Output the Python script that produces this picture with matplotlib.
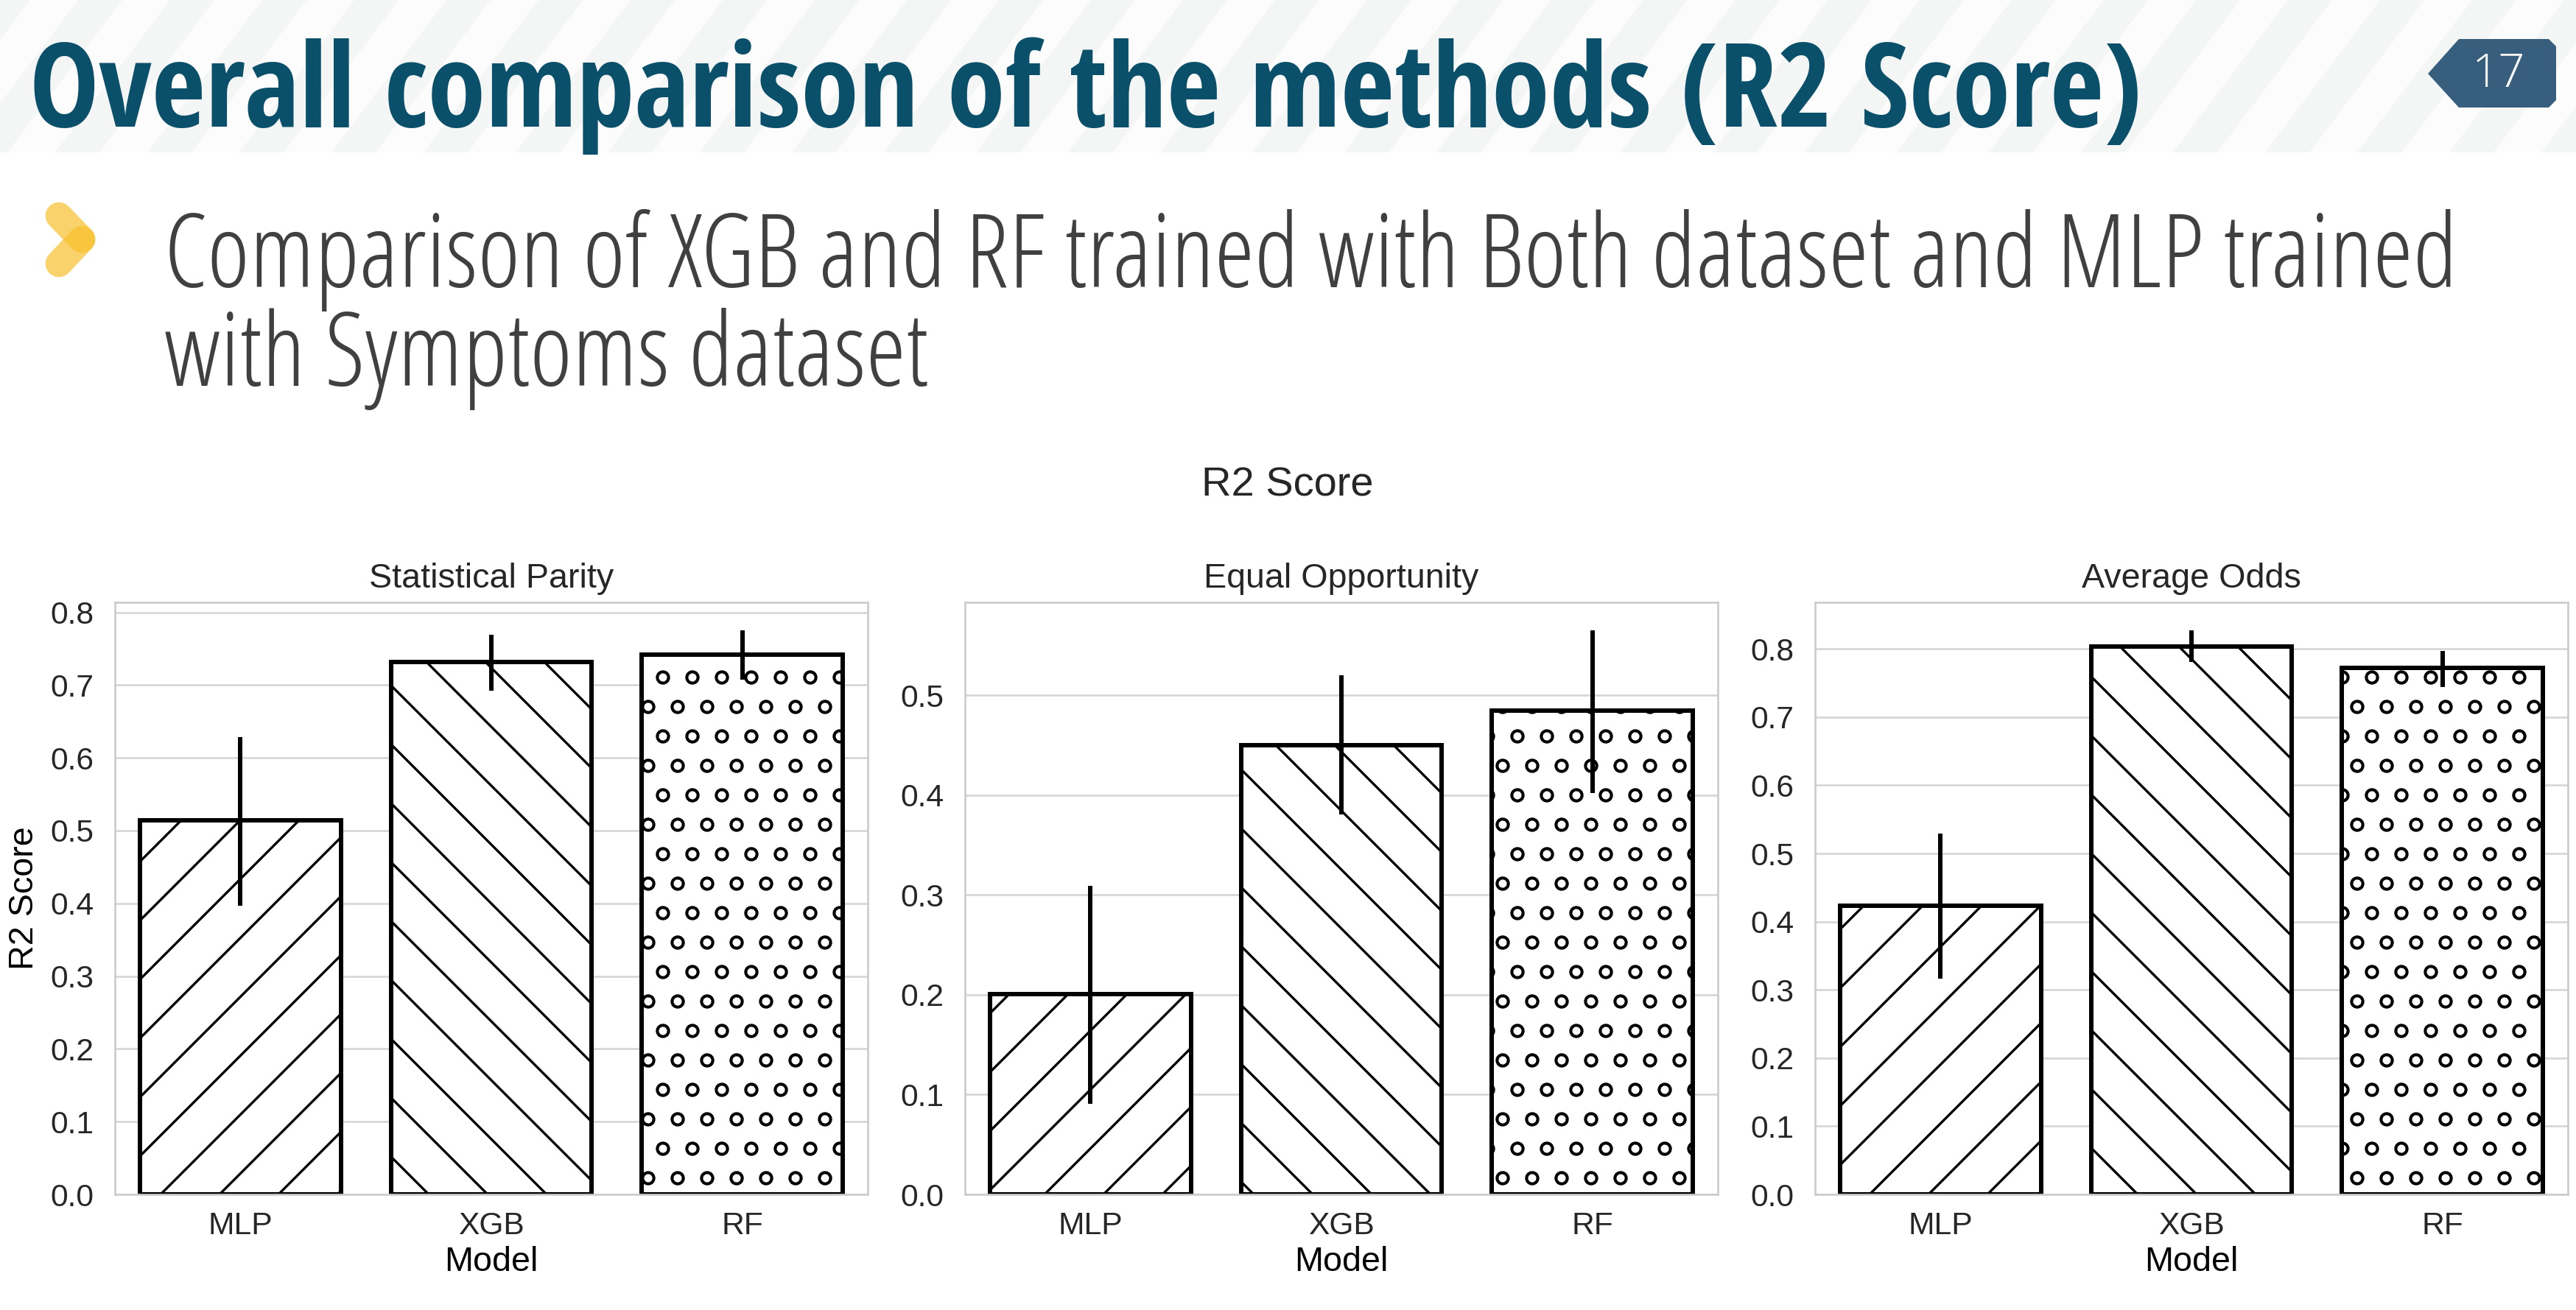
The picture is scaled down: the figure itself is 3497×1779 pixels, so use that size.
import matplotlib
matplotlib.use("Agg")
import matplotlib.pyplot as plt
from matplotlib import rcParams
from matplotlib.patches import Polygon, Rectangle
from matplotlib.ticker import MultipleLocator
import numpy as np

W, H = 3497, 1779
DPI = 240

models = ["MLP", "XGB", "RF"]
panel_titles = ["Statistical Parity", "Equal Opportunity", "Average Odds"]
sp_mean = [0.514, 0.732, 0.742]
sp_lo = [0.397, 0.692, 0.707]
sp_hi = [0.629, 0.769, 0.775]
eo_mean = [0.201, 0.450, 0.485]
eo_lo = [0.091, 0.381, 0.402]
eo_hi = [0.309, 0.520, 0.565]
ao_mean = [0.423, 0.804, 0.772]
ao_lo = [0.316, 0.781, 0.744]
ao_hi = [0.529, 0.827, 0.797]
hatches = ["/", "\\", "o"]

rcParams["font.family"] = ["Liberation Sans", "DejaVu Sans"]
rcParams["hatch.linewidth"] = 1.0
rcParams["text.color"] = "#262626"

fig = plt.figure(figsize=(W / DPI, H / DPI), dpi=DPI, facecolor="white")
bg = fig.add_axes([0, 0, 1, 1])
bg.set_xlim(0, W)
bg.set_ylim(H, 0)
bg.axis("off")

# faint striped header band
bg.add_patch(Rectangle((0, 0), W, 207, color="#fcfcfc", lw=0))
for x0 in range(-300, W + 300, 125):
    bg.add_patch(Polygon([(x0, 207), (x0 + 60, 207), (x0 + 216, 0), (x0 + 156, 0)],
                         closed=True, color="#f4f5f5", lw=0))

renderer = fig.canvas.get_renderer()


def fit_width(t, width):
    w = t.get_window_extent(renderer).width
    t.set_fontsize(t.get_fontsize() * width / w)


title = bg.text(40, 172, "Overall comparison of the methods (R2 Score)",
                family=["Open Sans Condensed", "DejaVu Sans"], weight="bold",
                color="#0b506b", fontsize=60, va="baseline", ha="left")
fit_width(title, 2870)

# slide number badge
bg.add_patch(Polygon([(3296, 100), (3338, 53), (3460, 53), (3470, 63), (3470, 136),
                      (3460, 146), (3338, 146)], closed=True, color="#375e7c", lw=0))
bg.text(3392, 101, "17", family=["Open Sans", "DejaVu Sans"], weight=300,
        color="white", fontsize=19, ha="center", va="center")

# bullet chevron
bg.plot([80, 111], [293, 325], color="#f9bf2c", lw=11, alpha=0.7, solid_capstyle="round")
bg.plot([111, 80], [325, 358], color="#f9bf2c", lw=11, alpha=0.7, solid_capstyle="round")

sub_font = dict(family=["Open Sans", "DejaVu Sans"], weight=300, stretch="condensed",
                color="#404040", va="baseline", ha="left")
sub1 = bg.text(223, 390, "Comparison of XGB and RF trained with Both dataset and MLP trained",
               fontsize=45, **sub_font)
fit_width(sub1, 3116)
bg.text(223, 524, "with Symptoms dataset", fontsize=sub1.get_fontsize(), **sub_font)

# chart
fig.text(1748 / W, 1 - 674 / H, "R2 Score", fontsize=16.8, ha="center", va="baseline")

means = [sp_mean, eo_mean, ao_mean]
los = [sp_lo, eo_lo, ao_lo]
his = [sp_hi, eo_hi, ao_hi]
lefts = [156, 1310, 2464]
for i in range(3):
    ax = fig.add_axes([lefts[i] / W, 1 - 1622 / H, 1022 / W, (1622 - 818) / H])
    ax.set_facecolor("white")
    x = np.arange(len(models))
    bars = ax.bar(x, means[i], width=0.8, color="white", edgecolor="black", linewidth=1.8)
    for b, h in zip(bars, hatches):
        b.set_hatch(h)
    ax.vlines(x, los[i], his[i], color="black", lw=1.8)
    ax.set_xlim(-0.5, 2.5)
    ax.set_ylim(0, None)
    ax.yaxis.set_major_locator(MultipleLocator(0.1))
    ax.set_xticks(x)
    ax.set_xticklabels(models)
    ax.grid(axis="y", color="#d6d6d6", lw=0.8)
    ax.set_axisbelow(True)
    for s in ax.spines.values():
        s.set_color("#cccccc")
        s.set_linewidth(0.8)
    ax.tick_params(length=0, labelsize=12.8, colors="#262626")
    ax.tick_params(axis="x", pad=7)
    ax.tick_params(axis="y", pad=8.5)
    ax.set_title(panel_titles[i], fontsize=14, color="#262626", pad=6)
    ax.set_xlabel("Model", fontsize=14, labelpad=2)
    if i == 0:
        ax.set_ylabel("R2 Score", fontsize=14, labelpad=4)

fig.savefig("out.png", dpi=DPI, facecolor="white")
